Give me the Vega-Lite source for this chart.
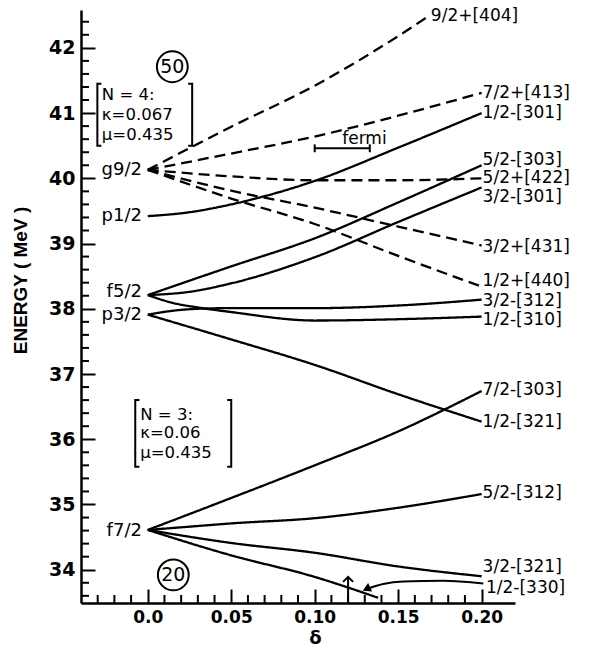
{
  "$schema": "https://vega.github.io/schema/vega-lite/v6.json",
  "width": 434,
  "height": 593,
  "autosize": {"type": "none"},
  "padding": {"left": 81, "top": 10, "right": 86, "bottom": 45},
  "background": "white",
  "config": {
    "view": {"stroke": null},
    "axis": {"grid": false, "domainColor": "black", "domainWidth": 2.5, "tickColor": "black", "tickWidth": 2, "labelColor": "black", "titleColor": "black"}
  },
  "datasets": {
    "curves": [
      {"c": "9/2+[404]", "s": "dashed", "d": 0, "e": 40.13},
      {"c": "9/2+[404]", "s": "dashed", "d": 0.05, "e": 40.79},
      {"c": "9/2+[404]", "s": "dashed", "d": 0.10, "e": 41.42},
      {"c": "9/2+[404]", "s": "dashed", "d": 0.15, "e": 42.18},
      {"c": "9/2+[404]", "s": "dashed", "d": 0.169, "e": 42.50},
      {"c": "7/2+[413]", "s": "dashed", "d": 0, "e": 40.13},
      {"c": "7/2+[413]", "s": "dashed", "d": 0.05, "e": 40.38},
      {"c": "7/2+[413]", "s": "dashed", "d": 0.10, "e": 40.64},
      {"c": "7/2+[413]", "s": "dashed", "d": 0.15, "e": 40.96},
      {"c": "7/2+[413]", "s": "dashed", "d": 0.20, "e": 41.31},
      {"c": "1/2-[301]", "s": "solid", "d": 0, "e": 39.42},
      {"c": "1/2-[301]", "s": "solid", "d": 0.025, "e": 39.48},
      {"c": "1/2-[301]", "s": "solid", "d": 0.05, "e": 39.60},
      {"c": "1/2-[301]", "s": "solid", "d": 0.10, "e": 39.96},
      {"c": "1/2-[301]", "s": "solid", "d": 0.15, "e": 40.47},
      {"c": "1/2-[301]", "s": "solid", "d": 0.20, "e": 41.0},
      {"c": "5/2+[422]", "s": "dashed", "d": 0, "e": 40.13},
      {"c": "5/2+[422]", "s": "dashed", "d": 0.05, "e": 40.03},
      {"c": "5/2+[422]", "s": "dashed", "d": 0.10, "e": 39.97},
      {"c": "5/2+[422]", "s": "dashed", "d": 0.15, "e": 39.97},
      {"c": "5/2+[422]", "s": "dashed", "d": 0.20, "e": 40.0},
      {"c": "3/2+[431]", "s": "dashed", "d": 0, "e": 40.13},
      {"c": "3/2+[431]", "s": "dashed", "d": 0.05, "e": 39.81},
      {"c": "3/2+[431]", "s": "dashed", "d": 0.10, "e": 39.55},
      {"c": "3/2+[431]", "s": "dashed", "d": 0.15, "e": 39.26},
      {"c": "3/2+[431]", "s": "dashed", "d": 0.20, "e": 38.97},
      {"c": "1/2+[440]", "s": "dashed", "d": 0, "e": 40.13},
      {"c": "1/2+[440]", "s": "dashed", "d": 0.05, "e": 39.69},
      {"c": "1/2+[440]", "s": "dashed", "d": 0.10, "e": 39.30},
      {"c": "1/2+[440]", "s": "dashed", "d": 0.15, "e": 38.81},
      {"c": "1/2+[440]", "s": "dashed", "d": 0.20, "e": 38.34},
      {"c": "5/2-[303]", "s": "solid", "d": 0, "e": 38.21},
      {"c": "5/2-[303]", "s": "solid", "d": 0.05, "e": 38.65},
      {"c": "5/2-[303]", "s": "solid", "d": 0.10, "e": 39.08},
      {"c": "5/2-[303]", "s": "solid", "d": 0.15, "e": 39.63},
      {"c": "5/2-[303]", "s": "solid", "d": 0.20, "e": 40.2},
      {"c": "3/2-[301]", "s": "solid", "d": 0, "e": 38.21},
      {"c": "3/2-[301]", "s": "solid", "d": 0.025, "e": 38.26},
      {"c": "3/2-[301]", "s": "solid", "d": 0.05, "e": 38.39},
      {"c": "3/2-[301]", "s": "solid", "d": 0.10, "e": 38.79},
      {"c": "3/2-[301]", "s": "solid", "d": 0.15, "e": 39.33},
      {"c": "3/2-[301]", "s": "solid", "d": 0.20, "e": 39.86},
      {"c": "1/2-[310]", "s": "solid", "d": 0, "e": 38.21},
      {"c": "1/2-[310]", "s": "solid", "d": 0.015, "e": 38.09},
      {"c": "1/2-[310]", "s": "solid", "d": 0.03, "e": 38.02},
      {"c": "1/2-[310]", "s": "solid", "d": 0.05, "e": 37.95},
      {"c": "1/2-[310]", "s": "solid", "d": 0.10, "e": 37.82},
      {"c": "1/2-[310]", "s": "solid", "d": 0.15, "e": 37.84},
      {"c": "1/2-[310]", "s": "solid", "d": 0.20, "e": 37.88},
      {"c": "3/2-[312]", "s": "solid", "d": 0, "e": 37.91},
      {"c": "3/2-[312]", "s": "solid", "d": 0.015, "e": 37.97},
      {"c": "3/2-[312]", "s": "solid", "d": 0.03, "e": 38.0},
      {"c": "3/2-[312]", "s": "solid", "d": 0.05, "e": 38.01},
      {"c": "3/2-[312]", "s": "solid", "d": 0.10, "e": 38.01},
      {"c": "3/2-[312]", "s": "solid", "d": 0.15, "e": 38.05},
      {"c": "3/2-[312]", "s": "solid", "d": 0.20, "e": 38.14},
      {"c": "1/2-[321]", "s": "solid", "d": 0, "e": 37.91},
      {"c": "1/2-[321]", "s": "solid", "d": 0.05, "e": 37.53},
      {"c": "1/2-[321]", "s": "solid", "d": 0.10, "e": 37.14},
      {"c": "1/2-[321]", "s": "solid", "d": 0.15, "e": 36.69},
      {"c": "1/2-[321]", "s": "solid", "d": 0.20, "e": 36.27},
      {"c": "7/2-[303]", "s": "solid", "d": 0, "e": 34.61},
      {"c": "7/2-[303]", "s": "solid", "d": 0.05, "e": 35.10},
      {"c": "7/2-[303]", "s": "solid", "d": 0.10, "e": 35.60},
      {"c": "7/2-[303]", "s": "solid", "d": 0.15, "e": 36.12},
      {"c": "7/2-[303]", "s": "solid", "d": 0.20, "e": 36.74},
      {"c": "5/2-[312]", "s": "solid", "d": 0, "e": 34.61},
      {"c": "5/2-[312]", "s": "solid", "d": 0.025, "e": 34.66},
      {"c": "5/2-[312]", "s": "solid", "d": 0.05, "e": 34.71},
      {"c": "5/2-[312]", "s": "solid", "d": 0.10, "e": 34.79},
      {"c": "5/2-[312]", "s": "solid", "d": 0.15, "e": 34.95},
      {"c": "5/2-[312]", "s": "solid", "d": 0.20, "e": 35.16},
      {"c": "3/2-[321]", "s": "solid", "d": 0, "e": 34.61},
      {"c": "3/2-[321]", "s": "solid", "d": 0.05, "e": 34.41},
      {"c": "3/2-[321]", "s": "solid", "d": 0.10, "e": 34.26},
      {"c": "3/2-[321]", "s": "solid", "d": 0.15, "e": 34.05},
      {"c": "3/2-[321]", "s": "solid", "d": 0.20, "e": 33.9},
      {"c": "1/2-[330]", "s": "solid", "d": 0, "e": 34.61},
      {"c": "1/2-[330]", "s": "solid", "d": 0.05, "e": 34.22},
      {"c": "1/2-[330]", "s": "solid", "d": 0.10, "e": 33.89},
      {"c": "1/2-[330]", "s": "solid", "d": 0.138, "e": 33.57}
    ],
    "xminor": [
      {"v": -0.03}, {"v": -0.02}, {"v": -0.01}, {"v": 0.01}, {"v": 0.02}, {"v": 0.03}, {"v": 0.04},
      {"v": 0.06}, {"v": 0.07}, {"v": 0.08}, {"v": 0.09}, {"v": 0.11}, {"v": 0.12}, {"v": 0.13}, {"v": 0.14},
      {"v": 0.16}, {"v": 0.17}, {"v": 0.18}, {"v": 0.19}
    ],
    "yminor": [
      {"v": 33.6}, {"v": 33.8}, {"v": 34.2}, {"v": 34.4}, {"v": 34.6}, {"v": 34.8},
      {"v": 35.2}, {"v": 35.4}, {"v": 35.6}, {"v": 35.8}, {"v": 36.2}, {"v": 36.4}, {"v": 36.6}, {"v": 36.8},
      {"v": 37.2}, {"v": 37.4}, {"v": 37.6}, {"v": 37.8}, {"v": 38.2}, {"v": 38.4}, {"v": 38.6}, {"v": 38.8},
      {"v": 39.2}, {"v": 39.4}, {"v": 39.6}, {"v": 39.8}, {"v": 40.2}, {"v": 40.4}, {"v": 40.6}, {"v": 40.8},
      {"v": 41.2}, {"v": 41.4}, {"v": 41.6}, {"v": 41.8}, {"v": 42.2}, {"v": 42.4}
    ],
    "rlabels": [
      {"t": "9/2+[404]", "d": 0.169, "e": 42.49},
      {"t": "7/2+[413]", "d": 0.2, "e": 41.31},
      {"t": "1/2-[301]", "d": 0.2, "e": 41.0},
      {"t": "5/2-[303]", "d": 0.2, "e": 40.28},
      {"t": "5/2+[422]", "d": 0.2, "e": 40.0},
      {"t": "3/2-[301]", "d": 0.2, "e": 39.72},
      {"t": "3/2+[431]", "d": 0.2, "e": 38.95},
      {"t": "1/2+[440]", "d": 0.2, "e": 38.42},
      {"t": "3/2-[312]", "d": 0.2, "e": 38.12},
      {"t": "1/2-[310]", "d": 0.2, "e": 37.83},
      {"t": "7/2-[303]", "d": 0.2, "e": 36.76},
      {"t": "1/2-[321]", "d": 0.2, "e": 36.27},
      {"t": "5/2-[312]", "d": 0.2, "e": 35.18},
      {"t": "3/2-[321]", "d": 0.2, "e": 34.04},
      {"t": "1/2-[330]", "d": 0.202, "e": 33.72}
    ],
    "llabels": [
      {"t": "g9/2", "d": -0.0035, "e": 40.12},
      {"t": "p1/2", "d": -0.0035, "e": 39.42},
      {"t": "f5/2", "d": -0.0035, "e": 38.26},
      {"t": "p3/2", "d": -0.0035, "e": 37.90},
      {"t": "f7/2", "d": -0.0035, "e": 34.6}
    ],
    "boxtext": [
      {"t": "N = 4:", "d": -0.0275, "e": 41.28},
      {"t": "κ=0.067", "d": -0.0275, "e": 40.97},
      {"t": "μ=0.435", "d": -0.0275, "e": 40.67},
      {"t": "N = 3:", "d": -0.0045, "e": 36.37},
      {"t": "κ=0.06", "d": -0.0045, "e": 36.10},
      {"t": "μ=0.435", "d": -0.0045, "e": 35.79}
    ],
    "brackets": [
      {"b": "1L", "o": 1, "d": -0.0278, "e": 41.45},
      {"b": "1L", "o": 2, "d": -0.0302, "e": 41.45},
      {"b": "1L", "o": 3, "d": -0.0302, "e": 40.50},
      {"b": "1L", "o": 4, "d": -0.0278, "e": 40.50},
      {"b": "1R", "o": 1, "d": 0.0242, "e": 41.45},
      {"b": "1R", "o": 2, "d": 0.0266, "e": 41.45},
      {"b": "1R", "o": 3, "d": 0.0266, "e": 40.50},
      {"b": "1R", "o": 4, "d": 0.0242, "e": 40.50},
      {"b": "2L", "o": 1, "d": -0.005, "e": 36.60},
      {"b": "2L", "o": 2, "d": -0.0075, "e": 36.60},
      {"b": "2L", "o": 3, "d": -0.0075, "e": 35.58},
      {"b": "2L", "o": 4, "d": -0.005, "e": 35.58},
      {"b": "2R", "o": 1, "d": 0.0476, "e": 36.60},
      {"b": "2R", "o": 2, "d": 0.05, "e": 36.60},
      {"b": "2R", "o": 3, "d": 0.05, "e": 35.58},
      {"b": "2R", "o": 4, "d": 0.0476, "e": 35.58}
    ],
    "circles": [
      {"t": "50", "d": 0.0147, "e": 41.71},
      {"t": "20", "d": 0.0153, "e": 33.92}
    ],
    "segments": [
      {"d": 0.10, "e": 40.46, "d2": 0.133, "e2": 40.46},
      {"d": 0.10, "e": 40.40, "d2": 0.10, "e2": 40.52},
      {"d": 0.133, "e": 40.40, "d2": 0.133, "e2": 40.52},
      {"d": 0.12, "e": 33.49, "d2": 0.12, "e2": 33.89}
    ],
    "arrowcurve": [
      {"d": 0.201, "e": 33.79},
      {"d": 0.177, "e": 33.83},
      {"d": 0.153, "e": 33.82},
      {"d": 0.141, "e": 33.78},
      {"d": 0.133, "e": 33.72}
    ]
  },
  "layer": [
    {
      "data": {"name": "curves"},
      "mark": {"type": "line", "interpolate": "monotone", "strokeWidth": 2.3, "color": "black"},
      "encoding": {
        "x": {
          "field": "d", "type": "quantitative",
          "scale": {"domain": [-0.04, 0.22], "nice": false, "zero": false},
          "axis": {
            "orient": "bottom", "values": [0, 0.05, 0.1, 0.15, 0.2],
            "labelExpr": "datum.value == 0 ? '0.0' : format(datum.value, '.2f')",
            "tickSize": -14, "labelPadding": 20,
            "labelFont": "DejaVu Sans", "labelFontSize": 17, "labelFontWeight": "bold",
            "title": "δ", "titleFont": "DejaVu Sans", "titleFontSize": 18, "titleFontWeight": "bold",
            "titleX": 234, "titleY": 35, "titleBaseline": "middle", "titleAlign": "center"
          }
        },
        "y": {
          "field": "e", "type": "quantitative",
          "scale": {"domain": [33.49, 42.58], "nice": false, "zero": false},
          "axis": {
            "orient": "left", "values": [34, 35, 36, 37, 38, 39, 40, 41, 42], "format": "d",
            "tickSize": -14, "labelPadding": 20,
            "labelFont": "DejaVu Sans", "labelFontSize": 19, "labelFontWeight": "bold",
            "title": "ENERGY ( MeV )", "titleFont": "Liberation Sans", "titleFontSize": 19, "titleFontWeight": "bold",
            "titleAngle": -90, "titleX": -61, "titleY": 270, "titleAlign": "center", "titleBaseline": "middle"
          }
        },
        "detail": {"field": "c"},
        "strokeDash": {"field": "s", "type": "nominal", "scale": {"domain": ["solid", "dashed"], "range": [[1, 0], [11, 6]]}, "legend": null}
      }
    },
    {
      "data": {"name": "xminor"},
      "mark": {"type": "rule", "color": "black", "strokeWidth": 2, "y2Offset": -8},
      "encoding": {
        "x": {"field": "v", "type": "quantitative", "axis": null},
        "y": {"value": {"expr": "height"}},
        "y2": {"value": {"expr": "height"}}
      }
    },
    {
      "data": {"name": "yminor"},
      "mark": {"type": "rule", "color": "black", "strokeWidth": 2, "x2Offset": 8},
      "encoding": {
        "y": {"field": "v", "type": "quantitative", "axis": null},
        "x": {"value": 0},
        "x2": {"value": 0}
      }
    },
    {
      "data": {"name": "rlabels"},
      "mark": {"type": "text", "align": "left", "baseline": "middle", "font": "DejaVu Sans", "fontSize": 17, "color": "black", "dx": 1},
      "encoding": {
        "x": {"field": "d", "type": "quantitative", "axis": null},
        "y": {"field": "e", "type": "quantitative", "axis": null},
        "text": {"field": "t"}
      }
    },
    {
      "data": {"name": "llabels"},
      "mark": {"type": "text", "align": "right", "baseline": "middle", "font": "DejaVu Sans", "fontSize": 18, "color": "black"},
      "encoding": {
        "x": {"field": "d", "type": "quantitative", "axis": null},
        "y": {"field": "e", "type": "quantitative", "axis": null},
        "text": {"field": "t"}
      }
    },
    {
      "data": {"name": "boxtext"},
      "mark": {"type": "text", "align": "left", "baseline": "middle", "font": "DejaVu Sans", "fontSize": 16.5, "color": "black"},
      "encoding": {
        "x": {"field": "d", "type": "quantitative", "axis": null},
        "y": {"field": "e", "type": "quantitative", "axis": null},
        "text": {"field": "t"}
      }
    },
    {
      "data": {"name": "brackets"},
      "mark": {"type": "line", "color": "black", "strokeWidth": 2},
      "encoding": {
        "x": {"field": "d", "type": "quantitative", "axis": null},
        "y": {"field": "e", "type": "quantitative", "axis": null},
        "detail": {"field": "b"},
        "order": {"field": "o"}
      }
    },
    {
      "data": {"name": "circles"},
      "mark": {"type": "point", "shape": "circle", "size": 950, "filled": false, "stroke": "black", "strokeWidth": 2, "opacity": 1},
      "encoding": {
        "x": {"field": "d", "type": "quantitative", "axis": null},
        "y": {"field": "e", "type": "quantitative", "axis": null}
      }
    },
    {
      "data": {"name": "circles"},
      "mark": {"type": "text", "align": "center", "baseline": "middle", "font": "DejaVu Sans", "fontSize": 19, "color": "black"},
      "encoding": {
        "x": {"field": "d", "type": "quantitative", "axis": null},
        "y": {"field": "e", "type": "quantitative", "axis": null},
        "text": {"field": "t"}
      }
    },
    {
      "data": {"name": "segments"},
      "mark": {"type": "rule", "color": "black", "strokeWidth": 2},
      "encoding": {
        "x": {"field": "d", "type": "quantitative", "axis": null},
        "y": {"field": "e", "type": "quantitative", "axis": null},
        "x2": {"field": "d2"},
        "y2": {"field": "e2"}
      }
    },
    {
      "data": {"values": [{"t": "fermi", "d": 0.1165, "e": 40.61}]},
      "mark": {"type": "text", "align": "left", "baseline": "middle", "font": "DejaVu Sans", "fontSize": 17, "color": "black"},
      "encoding": {
        "x": {"field": "d", "type": "quantitative", "axis": null},
        "y": {"field": "e", "type": "quantitative", "axis": null},
        "text": {"field": "t"}
      }
    },
    {
      "data": {"name": "arrowcurve"},
      "mark": {"type": "line", "interpolate": "monotone", "color": "black", "strokeWidth": 2},
      "encoding": {
        "x": {"field": "d", "type": "quantitative", "axis": null},
        "y": {"field": "e", "type": "quantitative", "axis": null}
      }
    },
    {
      "data": {"values": [{"d": 0.131, "e": 33.705}]},
      "mark": {"type": "point", "shape": "triangle-left", "size": 90, "filled": true, "color": "black", "opacity": 1, "angle": -25},
      "encoding": {
        "x": {"field": "d", "type": "quantitative", "axis": null},
        "y": {"field": "e", "type": "quantitative", "axis": null}
      }
    },
    {
      "data": {"values": [{"d": 0.12, "e": 33.89}]},
      "mark": {"type": "point", "shape": "M-1,1L0,0L1,1", "size": 100, "filled": false, "stroke": "black", "strokeWidth": 2, "opacity": 1},
      "encoding": {
        "x": {"field": "d", "type": "quantitative", "axis": null},
        "y": {"field": "e", "type": "quantitative", "axis": null}
      }
    }
  ],
  "resolve": {"axis": {"x": "independent", "y": "independent"}}
}
